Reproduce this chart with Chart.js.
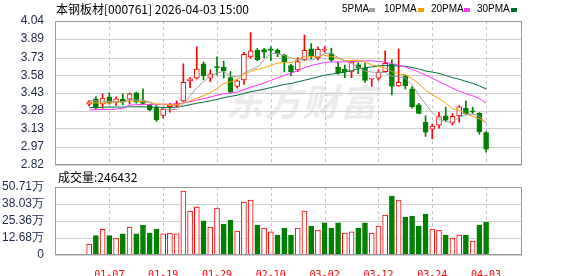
<!DOCTYPE html>
<html>
<head>
<meta charset="utf-8">
<script src="https://cdn.jsdelivr.net/npm/chart.js@4.4.1/dist/chart.umd.min.js"></script>
<style>
  body { margin: 0; background: #fff; width: 578px; height: 276px; overflow: hidden; position: relative; font-family: "Noto Sans CJK SC", sans-serif; }
  .txt { position: absolute; white-space: nowrap; color: #000; font-size: 12px; line-height: 14px; }
  .leg { position: absolute; top: 3px; font: 10px "Liberation Sans", Arial, sans-serif; color: #000; }
  .sq { position: absolute; top: 8px; width: 6px; height: 4px; }
  #watermark { position: absolute; left: 226px; top: 73px; font-size: 37px; font-weight: bold; font-style: italic; color: #ebebeb; letter-spacing: 1px; }
  canvas { position: absolute; left: 0; }
</style>
</head>
<body>
<div id="watermark">东方财富</div>
<canvas id="priceChart" width="578" height="175" style="top:0"></canvas>
<canvas id="volumeChart" width="578" height="106" style="top:170px"></canvas>

<div class="txt" style="left:56px;top:2px">本钢板材[000761] 2026-04-03 15:00</div>
<span class="leg" style="left:342px">5PMA</span><span class="sq" style="left:369px;background:#a0a0a0"></span>
<span class="leg" style="left:384px">10PMA</span><span class="sq" style="left:418px;background:#f5a200"></span>
<span class="leg" style="left:431px">20PMA</span><span class="sq" style="left:464px;background:#ff33ff"></span>
<span class="leg" style="left:477px">30PMA</span><span class="sq" style="left:511px;background:#00703a"></span>
<div class="txt" style="left:58px;top:170px">成交量:246432</div>

<script>
// trading days shown (MM-DD)
const dates = [
    "12-31", "01-05", "01-06", "01-07", "01-08", "01-09", "01-12", "01-13", "01-14", "01-15",
    "01-16", "01-19", "01-20", "01-21", "01-22", "01-23", "01-26", "01-27", "01-28", "01-29",
    "01-30", "02-02", "02-03", "02-04", "02-05", "02-06", "02-09", "02-10", "02-11", "02-12",
    "02-13", "02-24", "02-25", "02-26", "02-27", "03-02", "03-03", "03-04", "03-05", "03-06",
    "03-09", "03-10", "03-11", "03-12", "03-13", "03-16", "03-17", "03-18", "03-19", "03-20",
    "03-23", "03-24", "03-25", "03-26", "03-27", "03-30", "03-31", "04-01", "04-02", "04-03",
];
const labelIdx = [3, 11, 19, 27, 35, 43, 51, 59];

const opens = [
    3.334, 3.379, 3.334, 3.396, 3.351, 3.376, 3.376, 3.430, 3.362, 3.328,
    3.309, 3.238, 3.314, 3.323, 3.362, 3.532, 3.554, 3.676, 3.554, 3.653,
    3.650, 3.560, 3.484, 3.540, 3.735, 3.791, 3.797, 3.803, 3.791, 3.752,
    3.662, 3.625, 3.712, 3.803, 3.729, 3.792, 3.763, 3.650, 3.633, 3.608,
    3.668, 3.639, 3.546, 3.554, 3.611, 3.673, 3.489, 3.574, 3.464, 3.328,
    3.181, 3.122, 3.156, 3.235, 3.173, 3.235, 3.300, 3.275, 3.258, 3.094,
];
const highs = [
    3.365, 3.396, 3.422, 3.430, 3.396, 3.422, 3.430, 3.438, 3.464, 3.334,
    3.328, 3.309, 3.342, 3.362, 3.676, 3.560, 3.820, 3.693, 3.625, 3.735,
    3.701, 3.611, 3.543, 3.775, 3.941, 3.808, 3.808, 3.820, 3.803, 3.758,
    3.673, 3.729, 3.921, 3.848, 3.820, 3.820, 3.808, 3.695, 3.667, 3.699,
    3.687, 3.681, 3.551, 3.625, 3.786, 3.710, 3.803, 3.583, 3.484, 3.342,
    3.235, 3.165, 3.266, 3.309, 3.255, 3.323, 3.362, 3.309, 3.263, 3.102,
];
const lows = [
    3.320, 3.294, 3.300, 3.334, 3.323, 3.328, 3.334, 3.342, 3.334, 3.278,
    3.187, 3.215, 3.266, 3.309, 3.358, 3.475, 3.549, 3.540, 3.526, 3.583,
    3.554, 3.427, 3.470, 3.503, 3.724, 3.704, 3.729, 3.701, 3.738, 3.611,
    3.577, 3.611, 3.704, 3.718, 3.710, 3.775, 3.695, 3.588, 3.560, 3.560,
    3.594, 3.518, 3.484, 3.535, 3.605, 3.413, 3.484, 3.464, 3.300, 3.252,
    3.060, 3.040, 3.131, 3.187, 3.159, 3.181, 3.244, 3.252, 3.080, 2.927,
];
const closes = [
    3.354, 3.300, 3.385, 3.342, 3.379, 3.351, 3.422, 3.351, 3.340, 3.286,
    3.201, 3.292, 3.328, 3.340, 3.520, 3.549, 3.633, 3.577, 3.591, 3.645,
    3.616, 3.441, 3.532, 3.758, 3.786, 3.710, 3.775, 3.791, 3.763, 3.695,
    3.611, 3.695, 3.791, 3.746, 3.800, 3.797, 3.708, 3.597, 3.608, 3.692,
    3.645, 3.535, 3.549, 3.605, 3.681, 3.484, 3.520, 3.492, 3.314, 3.255,
    3.097, 3.148, 3.230, 3.198, 3.232, 3.311, 3.252, 3.269, 3.102, 2.953,
];

// moving averages
const ma5 = [
    3.365, 3.362, 3.360, 3.357, 3.352, 3.351, 3.376, 3.369, 3.369, 3.350,
    3.320, 3.294, 3.289, 3.289, 3.336, 3.406, 3.474, 3.524, 3.574, 3.599,
    3.612, 3.574, 3.565, 3.598, 3.627, 3.645, 3.712, 3.764, 3.765, 3.747,
    3.727, 3.711, 3.711, 3.708, 3.729, 3.766, 3.768, 3.730, 3.702, 3.680,
    3.650, 3.615, 3.606, 3.605, 3.603, 3.571, 3.568, 3.556, 3.498, 3.413,
    3.336, 3.261, 3.209, 3.186, 3.181, 3.224, 3.245, 3.252, 3.233, 3.177,
];
const ma10 = [
    3.345, 3.345, 3.345, 3.345, 3.350, 3.355, 3.362, 3.360, 3.355, 3.351,
    3.336, 3.335, 3.329, 3.329, 3.343, 3.363, 3.384, 3.407, 3.432, 3.468,
    3.509, 3.524, 3.545, 3.586, 3.613, 3.629, 3.643, 3.665, 3.682, 3.687,
    3.686, 3.712, 3.738, 3.737, 3.738, 3.747, 3.740, 3.721, 3.705, 3.705,
    3.708, 3.692, 3.668, 3.654, 3.642, 3.611, 3.592, 3.581, 3.552, 3.508,
    3.454, 3.415, 3.383, 3.342, 3.297, 3.280, 3.253, 3.231, 3.210, 3.179,
];
const ma20 = [
    3.285, 3.287, 3.289, 3.290, 3.292, 3.300, 3.325, 3.330, 3.332, 3.333,
    3.333, 3.334, 3.334, 3.335, 3.345, 3.355, 3.368, 3.380, 3.395, 3.410,
    3.423, 3.430, 3.437, 3.458, 3.478, 3.496, 3.514, 3.536, 3.557, 3.578,
    3.598, 3.618, 3.642, 3.662, 3.676, 3.688, 3.692, 3.693, 3.694, 3.696,
    3.697, 3.702, 3.703, 3.696, 3.690, 3.679, 3.666, 3.651, 3.629, 3.607,
    3.581, 3.554, 3.526, 3.498, 3.470, 3.446, 3.423, 3.406, 3.381, 3.344,
];
const ma30 = [
    3.305, 3.306, 3.308, 3.310, 3.310, 3.310, 3.312, 3.312, 3.312, 3.310,
    3.308, 3.306, 3.306, 3.310, 3.318, 3.330, 3.342, 3.352, 3.362, 3.375,
    3.390, 3.400, 3.410, 3.425, 3.440, 3.450, 3.462, 3.475, 3.488, 3.502,
    3.510, 3.524, 3.537, 3.551, 3.565, 3.580, 3.589, 3.598, 3.606, 3.620,
    3.634, 3.643, 3.650, 3.659, 3.664, 3.662, 3.658, 3.656, 3.646, 3.633,
    3.616, 3.606, 3.596, 3.578, 3.559, 3.546, 3.528, 3.511, 3.489, 3.464,
];

// volume in 万 (10k)
const volumes = [
    8.2, 14.4, 19.1, 14.4, 12.7, 15.7, 20.9, 15.7, 22.4, 16.4,
    19.4, 15.7, 16.4, 15.7, 47.7, 32.8, 35.8, 25.4, 20.9, 35.0,
    23.1, 26.1, 17.9, 39.5, 41.0, 22.4, 20.1, 17.2, 14.9, 20.1,
    14.9, 20.1, 32.8, 21.6, 18.6, 23.9, 20.1, 23.9, 16.4, 17.2,
    20.1, 23.9, 16.4, 21.6, 29.8, 44.0, 41.0, 28.3, 29.1, 21.6,
    30.6, 19.4, 18.6, 14.9, 12.7, 14.9, 14.9, 10.4, 22.4, 24.64,
];

const priceTicks = [2.82, 2.97, 3.13, 3.28, 3.43, 3.58, 3.73, 3.89, 4.04];
const volumeTicks = [0, 12.68, 25.36, 38.03, 50.71];

const RED = "#ff0000";
const GREEN = "#008000";
const xMin = -0.74, xMax = 60;

const candleUp = opens.map((o, i) => closes[i] >= o);
const volUp = closes.map((c, i) => (i === 0 ? true : c >= closes[i - 1]));

// grid lines (solid at value ticks, dashed at date ticks) and the gray frame
function gridFrame(yTicks) {
    return {
        id: "gridFrame",
        beforeDatasetsDraw(chart) {
            const { ctx, chartArea: a, scales } = chart;
            ctx.save();
            ctx.lineWidth = 1;
            ctx.strokeStyle = "#d0d0d0";
            yTicks.forEach((v) => {
                const y = Math.round(scales.y.getPixelForValue(v)) + 0.5;
                ctx.beginPath();
                ctx.moveTo(a.left, y);
                ctx.lineTo(a.right, y);
                ctx.stroke();
            });
            ctx.strokeStyle = "#c4c4c4";
            ctx.setLineDash([3, 3]);
            labelIdx.forEach((i) => {
                const x = Math.round(scales.x.getPixelForValue(i)) + 0.5;
                ctx.beginPath();
                ctx.moveTo(x, a.top);
                ctx.lineTo(x, a.bottom);
                ctx.stroke();
            });
            ctx.restore();
        },
        afterDraw(chart) {
            const { ctx, chartArea: a } = chart;
            ctx.save();
            ctx.strokeStyle = "#999";
            ctx.lineWidth = 1;
            ctx.strokeRect(Math.round(a.left) + 0.5, Math.round(a.top) + 0.5,
                Math.round(a.right - a.left) - 1, Math.round(a.bottom - a.top) - 1);
            ctx.restore();
        },
    };
}

function xScale(showLabels) {
    return {
        type: "linear",
        min: xMin,
        max: xMax,
        grid: { display: false },
        border: { display: false },
        afterBuildTicks: (s) => { s.ticks = labelIdx.map((v) => ({ value: v })); },
        ticks: showLabels
            ? { color: RED, padding: 6, autoSkip: false, maxRotation: 0,
                font: { size: 10, family: "DejaVu Sans Mono" },
                callback: (v) => dates[v] }
            : { display: false },
        afterFit: (s) => { s.height = showLabels ? 21 : 0; },
    };
}

function yScale(min, max, ticks, fmt) {
    return {
        min,
        max,
        grid: { display: false },
        border: { display: false },
        afterBuildTicks: (s) => { s.ticks = ticks.map((v) => ({ value: v })); },
        ticks: {
            padding: 3,
            autoSkip: false,
            color: "#1c2a48",
            font: { size: 12, family: "Liberation Sans" },
            callback: fmt,
        },
        afterFit: (s) => { s.width = 55; },
    };
}

const maLine = (label, data, color) => ({
    type: "line",
    label,
    data: data.map((v, i) => ({ x: i, y: v })),
    borderColor: color,
    borderWidth: 1,
    pointRadius: 0,
    tension: 0,
    order: 0,
});

new Chart(document.getElementById("priceChart"), {
    type: "bar",
    plugins: [gridFrame(priceTicks)],
    data: {
        datasets: [
            maLine("5PMA", ma5, "#a0a0a0"),
            maLine("10PMA", ma10, "#f5a200"),
            maLine("20PMA", ma20, "#ff33ff"),
            maLine("30PMA", ma30, "#00703a"),
            {
                label: "body",
                data: opens.map((o, i) => ({ x: i, y: [o, closes[i]] })),
                backgroundColor: candleUp.map((u) => (u ? "#fff" : GREEN)),
                borderColor: candleUp.map((u) => (u ? RED : GREEN)),
                borderWidth: 1,
                borderSkipped: false,
                barThickness: 5,
                minBarLength: 1,
                grouped: false,
                order: 1,
            },
            {
                label: "wick",
                data: lows.map((l, i) => ({ x: i, y: [l, highs[i]] })),
                backgroundColor: candleUp.map((u) => (u ? RED : GREEN)),
                borderWidth: 0,
                barThickness: 1,
                grouped: false,
                order: 2,
            },
        ],
    },
    options: {
        responsive: false,
        animation: false,
        layout: { padding: { left: 0, right: 56, top: 21, bottom: 10 } },
        plugins: { legend: { display: false }, tooltip: { enabled: false } },
        scales: {
            x: xScale(false),
            y: yScale(2.82, 4.04, priceTicks, (v) => v.toFixed(2)),
        },
    },
});

new Chart(document.getElementById("volumeChart"), {
    type: "bar",
    plugins: [gridFrame(volumeTicks)],
    data: {
        datasets: [
            {
                label: "volume",
                data: volumes.map((v, i) => ({ x: i, y: v })),
                backgroundColor: volUp.map((u) => (u ? "#fff" : GREEN)),
                borderColor: volUp.map((u) => (u ? RED : GREEN)),
                borderWidth: 1,
                borderSkipped: false,
                barThickness: 5,
            },
        ],
    },
    options: {
        responsive: false,
        animation: false,
        layout: { padding: { left: 0, right: 56, top: 17, bottom: 0 } },
        plugins: { legend: { display: false }, tooltip: { enabled: false } },
        scales: {
            x: xScale(true),
            y: yScale(0, 50.71, volumeTicks, (v) => (v === 0 ? "0" : v.toFixed(2) + "万")),
        },
    },
});
</script>
</body>
</html>
